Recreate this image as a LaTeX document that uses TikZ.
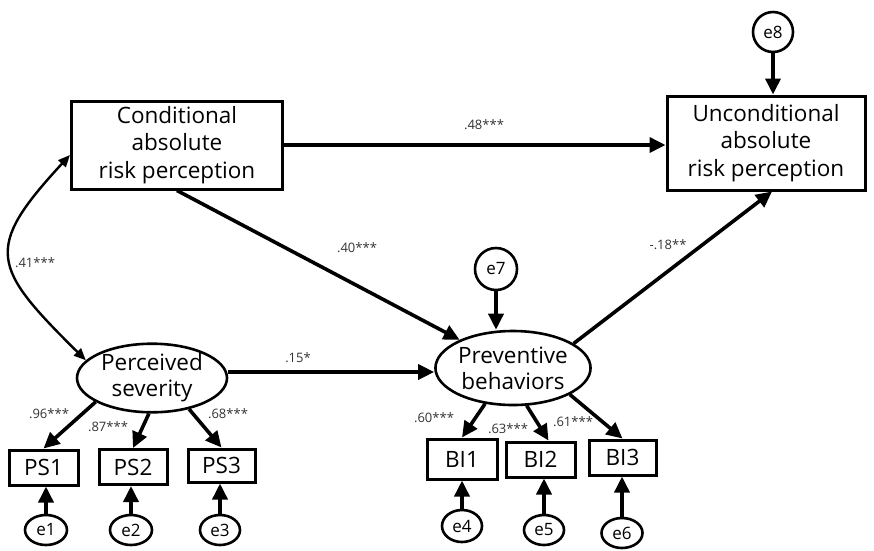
\documentclass[tikz,border=0pt]{standalone}
\usepackage{fontspec}
\setmainfont{Open Sans}
\usetikzlibrary{arrows.meta,shapes.geometric,calc}
\begin{document}
\begin{tikzpicture}[x=1pt,y=-1pt,
  box/.style={draw,line width=3pt,align=center,font=\fontsize{22.5}{27.5}\selectfont,inner sep=0pt},
  ind/.style={draw,line width=3pt,font=\fontsize{22.5}{24}\selectfont,inner sep=0pt},
  lat/.style={draw,ellipse,line width=2.6pt,align=center,font=\fontsize{22.5}{26}\selectfont,inner sep=0pt},
  err/.style={draw,ellipse,line width=2.6pt,font=\fontsize{17}{18}\selectfont,inner sep=0pt},
  arr/.style={line width=3.6pt,-{Triangle[length=16pt,width=15pt]}},
  cov/.style={line width=2.4pt,{Triangle[length=12pt,width=10pt]}-{Triangle[length=12pt,width=10pt]}},
  coef/.style={font=\fontsize{13}{14}\selectfont,text=black!80,inner sep=0pt}
]
\useasboundingbox (0,0) rectangle (874,550);

\node[box,minimum width=211pt,minimum height=88pt] (cond) at (177,145) {Conditional\\absolute\\risk perception};
\node[box,minimum width=198pt,minimum height=94pt] (uncond) at (766,143) {Unconditional\\absolute\\risk perception};
\node[err,minimum width=40pt,minimum height=40pt] (e8) at (773,32) {e8};
\node[lat,minimum width=150pt,minimum height=62pt] (ps) at (152,378) {Perceived\\severity};
\node[lat,minimum width=146pt,minimum height=74pt] (pb) at (513,368) {Preventive\\behaviors};
\node[err,minimum width=42pt,minimum height=42pt] (e7) at (496,269) {e7};

\node[ind,minimum width=69pt,minimum height=35pt] (PS1) at (43.5,467.5) {PS1};
\node[ind,minimum width=68pt,minimum height=35pt] (PS2) at (133,467) {PS2};
\node[ind,minimum width=67pt,minimum height=33pt] (PS3) at (221.5,465.5) {PS3};
\node[ind,minimum width=70pt,minimum height=40pt] (BI1) at (462,459) {BI1};
\node[ind,minimum width=69pt,minimum height=35pt] (BI2) at (540.5,459.5) {BI2};
\node[ind,minimum width=67pt,minimum height=35pt] (BI3) at (622.5,457.5) {BI3};

\node[err,minimum width=42pt,minimum height=30pt] (e1) at (46,530) {e1};
\node[err,minimum width=42pt,minimum height=30pt] (e2) at (131,530) {e2};
\node[err,minimum width=40pt,minimum height=30pt] (e3) at (220,530) {e3};
\node[err,minimum width=40pt,minimum height=32pt] (e4) at (462,526) {e4};
\node[err,minimum width=40pt,minimum height=30pt] (e5) at (544,530) {e5};
\node[err,minimum width=41pt,minimum height=30pt] (e6) at (622,533) {e6};

% structural paths
\draw[arr] (cond.east) -- (cond.east -| uncond.west);
\draw[arr] (cond.south) -- (pb);
\draw[arr] ([yshift=6pt]ps.east) -- ([yshift=6pt]ps.east -| pb.west);
\draw[arr] (pb.22) -- ([xshift=6pt]uncond.south);
\draw[cov] ([yshift=-10pt]cond.west) .. controls +(-87,94) and +(-94,-93) .. (ps.165);

% error terms
\draw[arr] (e8.south) -- (e8.south |- uncond.north);
\draw[arr] (e7.south) -- (e7.south |- pb.north);
\foreach \e/\t in {e1/PS1,e2/PS2,e3/PS3,e4/BI1,e5/BI2,e6/BI3}
  \draw[arr] (\e.north) -- (\e.north |- \t.south);

% loadings
\draw[arr] (ps.203) -- (PS1.north);
\draw[arr] (ps.265) -- (PS2.north);
\draw[arr] (ps.320) -- (PS3.north);
\draw[arr] (pb.232) -- (BI1.north);
\draw[arr] (pb.290) -- ([xshift=8pt]BI2.north);
\draw[arr] (pb.335) -- (BI3.north);

% coefficients
\node[coef] (c48) at (484,125) {.48***};
\node[coef] (c40) at (357,248) {.40***};
\node[coef] (c15) at (298,358) {.15*};
\node[coef] (c18) at (668,245) {-.18**};
\node[coef] (c41) at (35,263) {.41***};
\node[coef] (c96) at (49,414) {.96***};
\node[coef] (c87) at (108,427) {.87***};
\node[coef] (c68) at (228,414) {.68***};
\node[coef] (c60) at (434,418) {.60***};
\node[coef] (c63) at (508,429) {.63***};
\node[coef] (c61) at (573,422) {.61***};
\end{tikzpicture}
\end{document}
